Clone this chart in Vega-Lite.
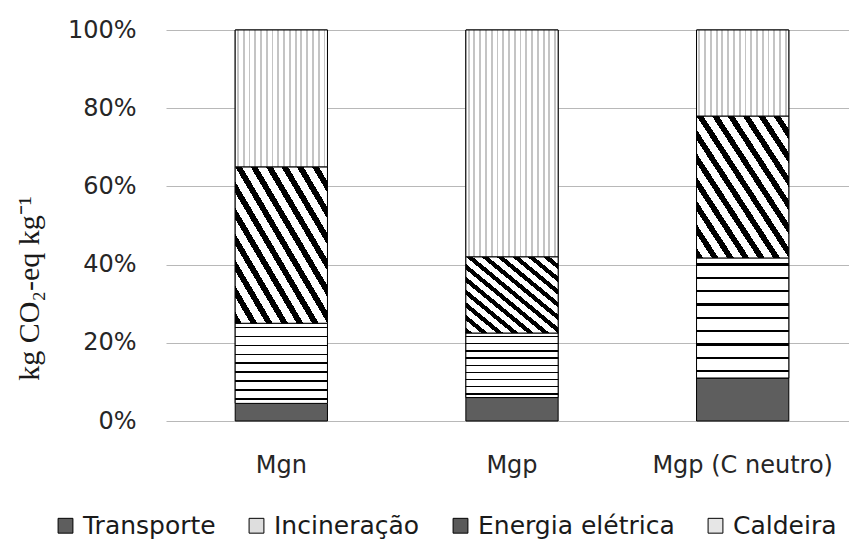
{
  "$schema": "https://vega.github.io/schema/vega-lite/v6.json",
  "autosize": "none",
  "padding": {"left": 166, "top": 30, "right": 0, "bottom": 119},
  "width": 683,
  "height": 391,
  "background": "white",
  "config": {
    "view": {"stroke": null},
    "font": "DejaVu Sans",
    "axis": {"labelFont": "DejaVu Sans", "labelColor": "#262626", "labelFontSize": 24}
  },
  "data": {
    "values": [
      {"cenario": "Mgn", "componente": "Transporte", "ordem": 1, "valor": 4.5},
      {"cenario": "Mgn", "componente": "Incineração", "ordem": 2, "valor": 20.5},
      {"cenario": "Mgn", "componente": "Energia elétrica", "ordem": 3, "valor": 40},
      {"cenario": "Mgn", "componente": "Caldeira", "ordem": 4, "valor": 35},
      {"cenario": "Mgp", "componente": "Transporte", "ordem": 1, "valor": 6},
      {"cenario": "Mgp", "componente": "Incineração", "ordem": 2, "valor": 16.5},
      {"cenario": "Mgp", "componente": "Energia elétrica", "ordem": 3, "valor": 19.5},
      {"cenario": "Mgp", "componente": "Caldeira", "ordem": 4, "valor": 58},
      {"cenario": "Mgp (C neutro)", "componente": "Transporte", "ordem": 1, "valor": 11},
      {"cenario": "Mgp (C neutro)", "componente": "Incineração", "ordem": 2, "valor": 30.7},
      {"cenario": "Mgp (C neutro)", "componente": "Energia elétrica", "ordem": 3, "valor": 36.3},
      {"cenario": "Mgp (C neutro)", "componente": "Caldeira", "ordem": 4, "valor": 22}
    ]
  },
  "transform": [
    {"stack": "valor", "groupby": ["cenario"], "sort": [{"field": "ordem", "order": "ascending"}], "offset": "normalize", "as": ["y0", "y1"]}
  ],
  "encoding": {
    "x": {
      "field": "cenario",
      "type": "nominal",
      "sort": ["Mgn", "Mgp", "Mgp (C neutro)"],
      "scale": {"range": [0, 692], "paddingInner": 0.6, "paddingOuter": 0.3},
      "axis": {"title": null, "labelAngle": 0, "domain": false, "ticks": false, "labelPadding": 44, "labelBaseline": "middle", "labelFontSize": 24, "labelLimit": 400}
    },
    "y": {
      "field": "y0",
      "type": "quantitative",
      "scale": {"domain": [0, 1], "nice": false},
      "axis": {
        "values": [0, 0.2, 0.4, 0.6, 0.8, 1],
        "format": ".0%",
        "domain": false,
        "ticks": false,
        "gridColor": "#b8b8b8",
        "gridWidth": 1.2,
        "labelPadding": 30,
        "title": "kg CO₂-eq kg⁻¹",
        "titleFont": "Liberation Serif",
        "titleFontSize": 30,
        "titleFontWeight": "normal",
        "titleColor": "#1a1a1a",
        "titleAngle": 270,
        "titleX": -137,
        "titleY": 258,
        "titleAlign": "center",
        "titleBaseline": "middle"
      }
    },
    "y2": {"field": "y1"}
  },
  "layer": [
    {
      "mark": {"type": "bar", "stroke": "black", "strokeWidth": 1},
      "encoding": {
        "color": {
          "field": "componente",
          "type": "nominal",
          "scale": {
            "domain": ["Transporte", "Incineração", "Energia elétrica", "Caldeira"],
            "range": ["#5e5e5e", "#dedede", "#5a5a5a", "#e6e6e6"]
          },
          "legend": {
            "title": null,
            "orient": "none",
            "direction": "horizontal",
            "legendX": -113,
            "legendY": 483,
            "symbolType": "square",
            "symbolSize": 220,
            "symbolStrokeColor": "black",
            "symbolStrokeWidth": 1,
            "symbolOpacity": 1,
            "labelFont": "DejaVu Sans",
            "labelFontSize": 25,
            "labelColor": "#1a1a1a",
            "labelOffset": 5,
            "columnPadding": 28,
            "labelLimit": 400
          }
        }
      }
    },
    {
      "transform": [{"filter": "datum.componente === 'Incineração'"}],
      "mark": {"type": "bar", "stroke": "black", "strokeWidth": 1,
        "fill": {"gradient": "linear", "x1": 0, "y1": 0, "x2": 0, "y2": 1, "stops": [
            {"offset": 0, "color": "white"}, {"offset": 0.045, "color": "white"}, {"offset": 0.045, "color": "black"}, {"offset": 0.065, "color": "black"}, {"offset": 0.065, "color": "white"},
            {"offset": 0.156, "color": "white"}, {"offset": 0.156, "color": "black"}, {"offset": 0.176, "color": "black"}, {"offset": 0.176, "color": "white"},
            {"offset": 0.267, "color": "white"}, {"offset": 0.267, "color": "black"}, {"offset": 0.287, "color": "black"}, {"offset": 0.287, "color": "white"},
            {"offset": 0.378, "color": "white"}, {"offset": 0.378, "color": "black"}, {"offset": 0.398, "color": "black"}, {"offset": 0.398, "color": "white"},
            {"offset": 0.489, "color": "white"}, {"offset": 0.489, "color": "black"}, {"offset": 0.509, "color": "black"}, {"offset": 0.509, "color": "white"},
            {"offset": 0.601, "color": "white"}, {"offset": 0.601, "color": "black"}, {"offset": 0.621, "color": "black"}, {"offset": 0.621, "color": "white"},
            {"offset": 0.712, "color": "white"}, {"offset": 0.712, "color": "black"}, {"offset": 0.732, "color": "black"}, {"offset": 0.732, "color": "white"},
            {"offset": 0.823, "color": "white"}, {"offset": 0.823, "color": "black"}, {"offset": 0.843, "color": "black"}, {"offset": 0.843, "color": "white"},
            {"offset": 0.934, "color": "white"}, {"offset": 0.934, "color": "black"}, {"offset": 0.954, "color": "black"}, {"offset": 0.954, "color": "white"},
            {"offset": 1, "color": "white"}
          ]}}
    },
    {
      "transform": [{"filter": "datum.componente === 'Energia elétrica'"}],
      "mark": {"type": "bar", "stroke": "black", "strokeWidth": 1,
        "fill": {"gradient": "linear", "x1": 0, "y1": 1, "x2": 1, "y2": 0, "stops": [
            {"offset": 0, "color": "black"}, {"offset": 0.036, "color": "black"}, {"offset": 0.036, "color": "white"}, {"offset": 0.0833, "color": "white"},
            {"offset": 0.0833, "color": "black"}, {"offset": 0.1197, "color": "black"}, {"offset": 0.1197, "color": "white"}, {"offset": 0.1667, "color": "white"},
            {"offset": 0.1667, "color": "black"}, {"offset": 0.203, "color": "black"}, {"offset": 0.203, "color": "white"}, {"offset": 0.25, "color": "white"},
            {"offset": 0.25, "color": "black"}, {"offset": 0.2863, "color": "black"}, {"offset": 0.2863, "color": "white"}, {"offset": 0.3333, "color": "white"},
            {"offset": 0.3333, "color": "black"}, {"offset": 0.3697, "color": "black"}, {"offset": 0.3697, "color": "white"}, {"offset": 0.4167, "color": "white"},
            {"offset": 0.4167, "color": "black"}, {"offset": 0.453, "color": "black"}, {"offset": 0.453, "color": "white"}, {"offset": 0.5, "color": "white"},
            {"offset": 0.5, "color": "black"}, {"offset": 0.5363, "color": "black"}, {"offset": 0.5363, "color": "white"}, {"offset": 0.5833, "color": "white"},
            {"offset": 0.5833, "color": "black"}, {"offset": 0.6197, "color": "black"}, {"offset": 0.6197, "color": "white"}, {"offset": 0.6667, "color": "white"},
            {"offset": 0.6667, "color": "black"}, {"offset": 0.703, "color": "black"}, {"offset": 0.703, "color": "white"}, {"offset": 0.75, "color": "white"},
            {"offset": 0.75, "color": "black"}, {"offset": 0.7863, "color": "black"}, {"offset": 0.7863, "color": "white"}, {"offset": 0.8333, "color": "white"},
            {"offset": 0.8333, "color": "black"}, {"offset": 0.8697, "color": "black"}, {"offset": 0.8697, "color": "white"}, {"offset": 0.9167, "color": "white"},
            {"offset": 0.9167, "color": "black"}, {"offset": 0.953, "color": "black"}, {"offset": 0.953, "color": "white"}, {"offset": 1, "color": "white"}
          ]}}
    },
    {
      "transform": [{"filter": "datum.componente === 'Caldeira'"}],
      "mark": {"type": "bar", "stroke": "black", "strokeWidth": 1,
        "fill": {"gradient": "linear", "x1": 0, "y1": 0, "x2": 1, "y2": 0, "stops": [
            {"offset": 0, "color": "white"},
            {"offset": 0.02, "color": "white"}, {"offset": 0.02, "color": "#c4c4c4"}, {"offset": 0.04, "color": "#c4c4c4"}, {"offset": 0.04, "color": "white"},
            {"offset": 0.0825, "color": "white"}, {"offset": 0.0825, "color": "#c4c4c4"}, {"offset": 0.1025, "color": "#c4c4c4"}, {"offset": 0.1025, "color": "white"},
            {"offset": 0.145, "color": "white"}, {"offset": 0.145, "color": "#c4c4c4"}, {"offset": 0.165, "color": "#c4c4c4"}, {"offset": 0.165, "color": "white"},
            {"offset": 0.2075, "color": "white"}, {"offset": 0.2075, "color": "#c4c4c4"}, {"offset": 0.2275, "color": "#c4c4c4"}, {"offset": 0.2275, "color": "white"},
            {"offset": 0.27, "color": "white"}, {"offset": 0.27, "color": "#c4c4c4"}, {"offset": 0.29, "color": "#c4c4c4"}, {"offset": 0.29, "color": "white"},
            {"offset": 0.3325, "color": "white"}, {"offset": 0.3325, "color": "#c4c4c4"}, {"offset": 0.3525, "color": "#c4c4c4"}, {"offset": 0.3525, "color": "white"},
            {"offset": 0.395, "color": "white"}, {"offset": 0.395, "color": "#c4c4c4"}, {"offset": 0.415, "color": "#c4c4c4"}, {"offset": 0.415, "color": "white"},
            {"offset": 0.4575, "color": "white"}, {"offset": 0.4575, "color": "#c4c4c4"}, {"offset": 0.4775, "color": "#c4c4c4"}, {"offset": 0.4775, "color": "white"},
            {"offset": 0.52, "color": "white"}, {"offset": 0.52, "color": "#c4c4c4"}, {"offset": 0.54, "color": "#c4c4c4"}, {"offset": 0.54, "color": "white"},
            {"offset": 0.5825, "color": "white"}, {"offset": 0.5825, "color": "#c4c4c4"}, {"offset": 0.6025, "color": "#c4c4c4"}, {"offset": 0.6025, "color": "white"},
            {"offset": 0.645, "color": "white"}, {"offset": 0.645, "color": "#c4c4c4"}, {"offset": 0.665, "color": "#c4c4c4"}, {"offset": 0.665, "color": "white"},
            {"offset": 0.7075, "color": "white"}, {"offset": 0.7075, "color": "#c4c4c4"}, {"offset": 0.7275, "color": "#c4c4c4"}, {"offset": 0.7275, "color": "white"},
            {"offset": 0.77, "color": "white"}, {"offset": 0.77, "color": "#c4c4c4"}, {"offset": 0.79, "color": "#c4c4c4"}, {"offset": 0.79, "color": "white"},
            {"offset": 0.8325, "color": "white"}, {"offset": 0.8325, "color": "#c4c4c4"}, {"offset": 0.8525, "color": "#c4c4c4"}, {"offset": 0.8525, "color": "white"},
            {"offset": 0.895, "color": "white"}, {"offset": 0.895, "color": "#c4c4c4"}, {"offset": 0.915, "color": "#c4c4c4"}, {"offset": 0.915, "color": "white"},
            {"offset": 0.9575, "color": "white"}, {"offset": 0.9575, "color": "#c4c4c4"}, {"offset": 0.9775, "color": "#c4c4c4"}, {"offset": 0.9775, "color": "white"},
            {"offset": 1, "color": "white"}
          ]}}
    }
  ]
}
